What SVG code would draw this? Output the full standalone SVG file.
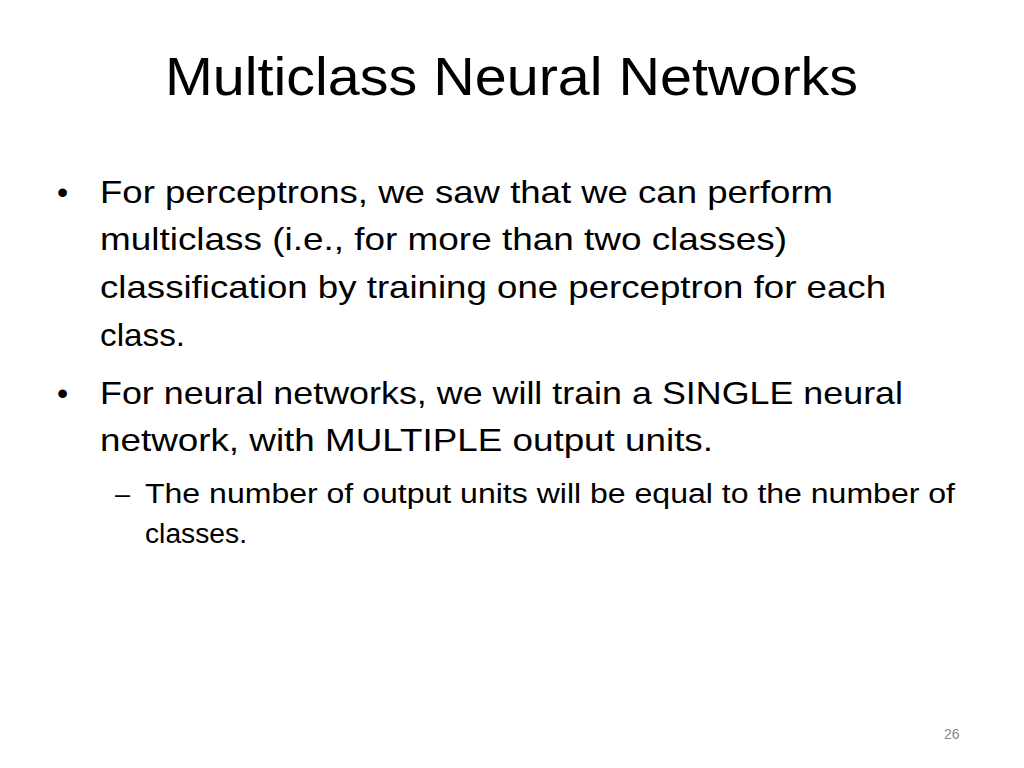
<svg xmlns="http://www.w3.org/2000/svg" width="1024" height="768" viewBox="0 0 1024 768">
<style>
text{font-family:"Liberation Sans","Open Sans",sans-serif;fill:#000}
.t{font-size:54px}
.b{font-size:32px}
.s{font-size:27px}
</style>
<rect width="1024" height="768" fill="#fff"/>
<g id="title"><text class="t" x="165" y="95" textLength="693" lengthAdjust="spacingAndGlyphs">Multiclass Neural Networks</text></g>
<g id="body">
<text class="b" x="57" y="203">•</text>
<text class="b" x="100" y="203" textLength="733" lengthAdjust="spacingAndGlyphs">For perceptrons, we saw that we can perform</text>
<text class="b" x="100" y="250" textLength="687" lengthAdjust="spacingAndGlyphs">multiclass (i.e., for more than two classes)</text>
<text class="b" x="100" y="298" textLength="786" lengthAdjust="spacingAndGlyphs">classification by training one perceptron for each</text>
<text class="b" x="100" y="346" textLength="85" lengthAdjust="spacingAndGlyphs">class.</text>
<text class="b" x="57" y="404">•</text>
<text class="b" x="100" y="404" textLength="803" lengthAdjust="spacingAndGlyphs">For neural networks, we will train a SINGLE neural</text>
<text class="b" x="100" y="451" textLength="613" lengthAdjust="spacingAndGlyphs">network, with MULTIPLE output units.</text>
<text class="s" x="115" y="503">–</text>
<text class="s" x="145" y="503" textLength="810" lengthAdjust="spacingAndGlyphs">The number of output units will be equal to the number of</text>
<text class="s" x="145" y="543" textLength="102" lengthAdjust="spacingAndGlyphs">classes.</text>
</g>
<g id="page"><text x="944" y="739" font-size="14" style="fill:#888">26</text></g>
</svg>
